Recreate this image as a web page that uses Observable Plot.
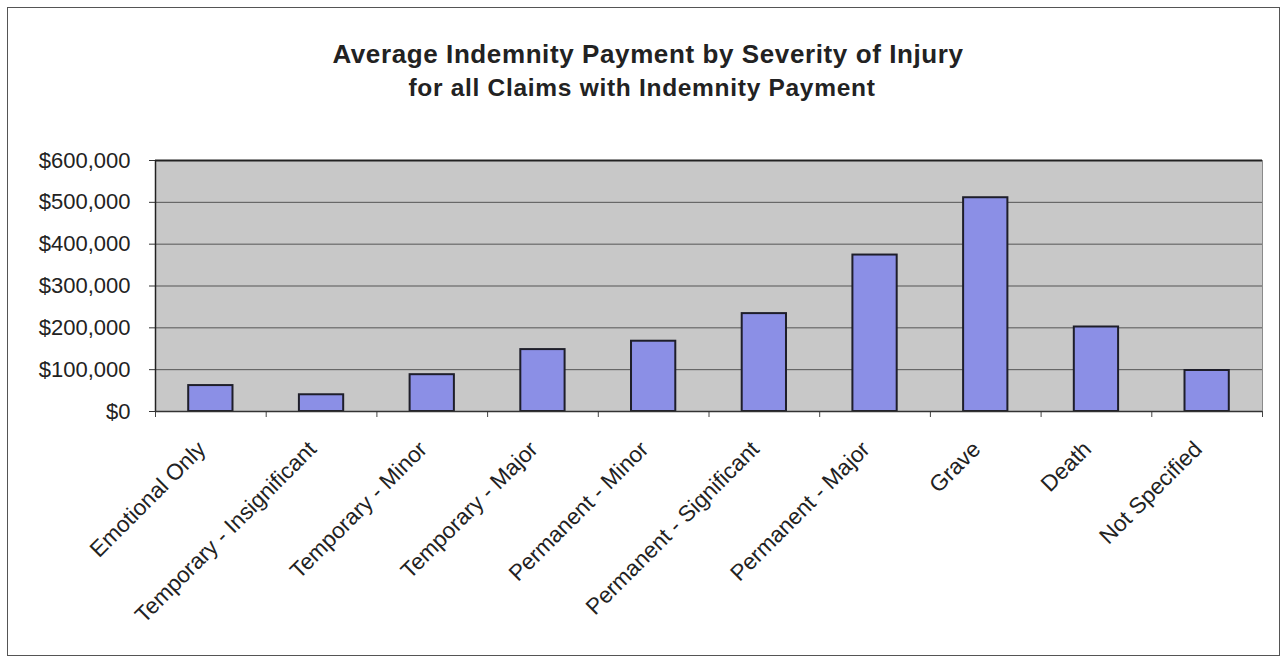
<!DOCTYPE html>
<html>
<head>
<meta charset="utf-8">
<script src="https://cdn.jsdelivr.net/npm/d3@7"></script>
<script src="https://cdn.jsdelivr.net/npm/@observablehq/plot@0.6"></script>
<style>
  html, body { margin: 0; padding: 0; background: #fff; }
  #wrap { position: relative; width: 1286px; height: 660px; overflow: hidden; font-family: "Liberation Sans", Arial, sans-serif; }
  #border { position: absolute; left: 7px; top: 7px; width: 1271px; height: 647px; border: 1.5px solid #555; }
  #title { position: absolute; left: 0; width: 1296px; top: 39px; text-align: center; font-weight: bold; font-size: 26px; letter-spacing: 0.6px; color: #222; line-height: 30px; }
  #subtitle { position: absolute; left: 0; width: 1284px; top: 74px; text-align: center; font-weight: bold; font-size: 24.5px; letter-spacing: 0.7px; color: #222; line-height: 28px; }
  #chart { position: absolute; left: 0; top: 0; }
</style>
</head>
<body>
<div id="wrap">
  <div id="border"></div>
  <div id="title">Average Indemnity Payment by Severity of Injury</div>
  <div id="subtitle">for all Claims with Indemnity Payment</div>
  <div id="chart"></div>
</div>
<script>
const categories = [
  "Emotional Only",
  "Temporary - Insignificant",
  "Temporary - Minor",
  "Temporary - Major",
  "Permanent - Minor",
  "Permanent - Significant",
  "Permanent - Major",
  "Grave",
  "Death",
  "Not Specified"
];
const values = [62000, 40000, 88000, 148000, 168000, 234000, 374000, 511000, 202000, 98000];
const yTicks = [0, 100000, 200000, 300000, 400000, 500000, 600000];

const data = categories.map((c, i) => ({category: c, value: values[i]}));

const W = 1286, H = 660;
const mL = 155, mR = 24, mT = 160, mB = 249;
const step = (W - mL - mR) / categories.length;

const chart = Plot.plot({
  width: W,
  height: H,
  marginLeft: mL,
  marginRight: mR,
  marginTop: mT,
  marginBottom: mB,
  style: {fontFamily: "'Liberation Sans', Arial, sans-serif", color: "#222", background: "transparent"},
  x: {domain: categories, paddingInner: 0.6, paddingOuter: 0.3, round: false, axis: null},
  y: {domain: [0, 600000], axis: null},
  marks: [
    Plot.frame({fill: "#c8c8c8", stroke: "#8a8a8a", strokeWidth: 1}),
    Plot.ruleY(yTicks, {stroke: "#555", strokeWidth: 1}),
    Plot.ruleY([600000], {stroke: "#222", strokeWidth: 2}),
    Plot.axisY({ticks: yTicks, tickFormat: d3.format("$,"), tickSize: 6, tickPadding: 19, fontSize: 22, letterSpacing: 0.3, stroke: "#333", label: null}),
    Plot.barY(data, {x: "category", y: "value", fill: "#8b8fe6", stroke: "#1e1e2a", strokeWidth: 2}),
    // left axis line
    Plot.ruleX([categories[0]], {x: d => d, y1: 0, y2: 600000, dx: -step / 2, stroke: "#222", strokeWidth: 1.5}),
    // category boundary tick marks below the axis
    Plot.ruleX(categories, {x: d => d, y1: 0, y2: 0, dx: -step / 2, insetBottom: -6, stroke: "#444"}),
    Plot.ruleX([categories[categories.length - 1]], {x: d => d, y1: 0, y2: 0, dx: step / 2, insetBottom: -6, stroke: "#444"}),
    Plot.ruleY([0], {stroke: "#333", strokeWidth: 1.5}),
    Plot.text(categories, {x: d => d, y: 0, text: d => d, rotate: -45, textAnchor: "end", lineAnchor: "middle", dx: -9, dy: 34, fontSize: 22.5, letterSpacing: 0.3, fill: "#222"})
  ]
});

document.getElementById("chart").appendChild(chart);
</script>
</body>
</html>
